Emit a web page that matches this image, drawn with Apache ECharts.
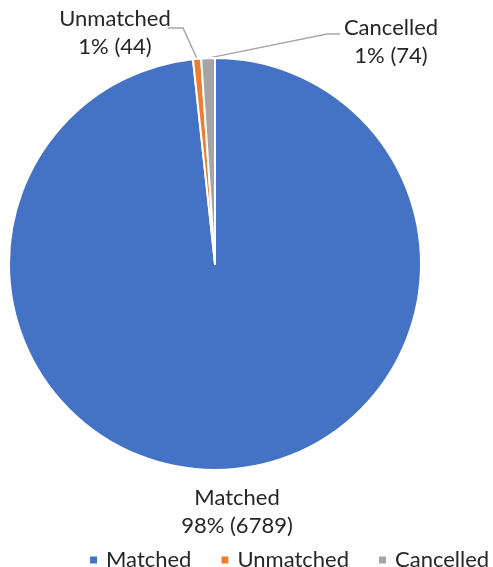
<!DOCTYPE html>
<html>
<head>
<meta charset="utf-8">
<script src="https://cdn.jsdelivr.net/npm/echarts@6/dist/echarts.min.js"></script>
<style>
  html, body { margin: 0; padding: 0; background: #fff; }
  #main { width: 493px; height: 567px; }
</style>
</head>
<body>
<div id="main"></div>
<script>
var categories = ['Matched', 'Unmatched', 'Cancelled'];
var counts = [6789, 44, 74];
var colors = ['#4472C4', '#ED7D31', '#A5A5A5'];

// label placement (pixels) and leader line bends
var labelPos = [[237, 512], [115, 33], [391, 42]];
var lineBend = [null, [[183, 28], [168, 28]], [[327, 34], [340, 34]]];

var chart = echarts.init(document.getElementById('main'));

var data = categories.map(function (name, i) {
  var d = { name: name, value: counts[i], itemStyle: { color: colors[i] } };
  if (i === 0) d.labelLine = { show: false };
  return d;
});

chart.setOption({
  animation: false,
  textStyle: { fontFamily: 'Lato' },
  legend: {
    data: categories,
    top: 544,
    left: 83,
    width: 420,
    icon: 'rect',
    itemWidth: 9,
    itemHeight: 9,
    itemGap: 28,
    textStyle: { fontSize: 22, color: '#262626', fontFamily: 'Lato', padding: [0, 0, 0, 3] }
  },
  series: [{
    type: 'pie',
    center: [215, 264],
    radius: 206,
    startAngle: 90,
    clockwise: true,
    avoidLabelOverlap: false,
    itemStyle: { borderColor: '#fff', borderWidth: 2 },
    label: {
      show: true,
      position: 'outside',
      fontSize: 22,
      lineHeight: 28,
      color: '#262626',
      fontFamily: 'Lato',
      align: 'center',
      formatter: function (p) {
        return p.name + '\n' + Math.round(p.percent) + '% (' + p.value + ')';
      }
    },
    labelLine: {
      show: true,
      length: 15,
      length2: 15,
      lineStyle: { color: '#A6A6A6', width: 1.5 }
    },
    labelLayout: function (params) {
      var i = params.dataIndex;
      var out = { x: labelPos[i][0], y: labelPos[i][1], align: 'center', verticalAlign: 'middle' };
      if (lineBend[i] && params.labelLinePoints) {
        out.labelLinePoints = [params.labelLinePoints[0], lineBend[i][0], lineBend[i][1]];
      }
      return out;
    },
    emphasis: { disabled: true },
    data: data
  }]
});
</script>
</body>
</html>
